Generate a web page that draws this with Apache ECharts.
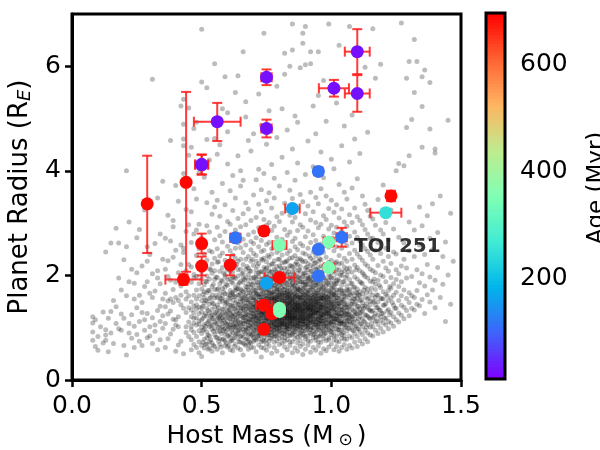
<!DOCTYPE html>
<html><head><meta charset="utf-8">
<script src="https://cdn.jsdelivr.net/npm/echarts@6/dist/echarts.min.js"></script>
<style>html,body{margin:0;padding:0;background:#fff}#c{width:600px;height:450px}</style>
</head><body><div id="c"></div>
<script>
// ---- axis ticks / ranges ----
const xTicks = [0, 0.5, 1.0, 1.5];
const yTicks = [0, 2, 4, 6];
const ageTicks = [200, 400, 600];
const ageRange = [12, 697];

// ---- young planets (colored, with error bars); reds first so younger draw on top ----
const planetMass    = [0.29, 0.44, 0.43, 0.50, 0.50, 0.61, 1.23, 0.74, 0.80, 0.74, 0.77, 0.74, 0.50, 0.80, 0.99, 0.99, 0.80, 0.80, 1.21, 0.85, 0.75, 0.63, 0.95, 1.04, 0.95, 0.95, 0.56, 0.50, 1.10, 1.10, 1.01, 0.75, 0.75];
const planetMassErr = [0, 0, 0.07, 0, 0, 0, 0.015, 0.015, 0.058, 0.03, 0.015, 0.01, 0.025, 0.027, 0.02, 0.02, 0.02, 0.02, 0.06, 0.028, 0.01, 0.02, 0.015, 0.02, 0.01, 0.01, 0.09, 0.025, 0.048, 0.048, 0.058, 0.02, 0.02];
const planetRadius  = [3.37, 3.78, 1.92, 2.61, 2.18, 2.20, 3.52, 2.85, 1.96, 1.43, 1.27, 0.97, 4.12, 2.58, 2.64, 2.15, 1.37, 1.31, 3.20, 3.28, 1.85, 2.72, 3.99, 2.73, 2.50, 1.99, 4.94, 4.12, 6.28, 5.48, 5.58, 5.79, 4.81];
const radiusErrLo   = [0.94, 1.71, 0.10, 0.19, 0.18, 0.20, 0.10, 0.08, 0.08, 0.09, 0.08, 0.06, 0.19, 0.08, 0.09, 0.08, 0.06, 0.06, 0.06, 0.06, 0.04, 0.08, 0.07, 0.18, 0.05, 0.05, 0.37, 0.19, 0.43, 0.35, 0.16, 0.15, 0.17];
const radiusErrHi   = [0.92, 1.73, 0.10, 0.19, 0.18, 0.19, 0.10, 0.08, 0.08, 0.09, 0.08, 0.06, 0.19, 0.08, 0.09, 0.08, 0.06, 0.06, 0.06, 0.06, 0.04, 0.08, 0.07, 0.18, 0.05, 0.05, 0.36, 0.19, 0.43, 0.35, 0.16, 0.15, 0.17];
const planetAge     = [690, 690, 690, 690, 690, 690, 690, 690, 690, 690, 690, 690, 25, 355, 355, 355, 355, 355, 250, 165, 165, 115, 115, 115, 115, 115, 25, 25, 25, 25, 25, 25, 25];
const labelText = 'TOI 251';
const labelPos = [1.087, 2.54];

// ---- background known planets: [host mass, [radii...]] read column by column ----
const bgStars = [
[0.08,[0.76,0.92,1.09,1.21]],[0.09,[0.64,1.15]],[0.10,[0.57,0.83]],[0.11,[1.02]],[0.12,[0.71,1.30]],
[0.13,[0.76,0.86,0.96,2.45]],[0.14,[1.18,0.54]],[0.15,[1.31,0.90,2.62]],[0.16,[0.70,1.52]],[0.17,[1.08,1.40,2.90]],
[0.18,[1.95,0.98,2.62]],[0.19,[0.95,1.72,1.26]],[0.20,[1.18,2.30,0.66]],[0.21,[0.48,2.55,1.61,4.00]],[0.22,[0.90,1.08,3.02,1.88]],
[0.23,[0.80,1.25,2.12]],[0.24,[0.62,1.55,1.85,1.03]],[0.25,[1.38,2.05,2.72,0.87]],[0.26,[1.12,1.62,2.88,0.74]],[0.27,[0.66,1.48,2.18,1.29]],
[0.28,[0.95,1.79,3.25,1.15]],[0.29,[1.27,1.88,2.27,2.55,0.81]],[0.30,[0.84,1.02,2.40,1.66]],[0.31,[0.70,1.19,1.58,5.75,2.03]],[0.32,[1.05,1.70,2.61,0.93]],
[0.33,[0.58,1.33,1.95,2.09,3.48]],[0.34,[0.77,1.41,2.79,1.12,1.84]],[0.35,[1.55,2.31,3.80,0.99,1.23]],[0.36,[0.62,1.08,1.40,1.66,2.12,2.71]],[0.37,[0.79,1.26,1.98,2.28,3.15,1.51]],
[0.38,[0.88,1.32,1.55,1.91,2.66,4.58]],[0.39,[0.97,1.48,1.73,2.35,2.93,3.05,1.16]],[0.40,[0.55,1.05,1.15,1.58,2.48,3.72,1.87]],[0.41,[0.67,1.21,1.52,2.05,3.42,1.02]],[0.42,[0.74,1.44,1.62,1.80,2.58,5.24,2.21]],
[0.43,[0.50,1.37,1.93,2.44,3.95,4.89,5.37,4.61,4.48,2.52]],[0.44,[0.91,1.02,1.29,1.69,2.09,2.84,3.26,1.55]],[0.45,[0.83,1.11,1.61,2.21,2.97,4.30,5.20,1.38]],
[0.46,[0.58,1.21,0.77,1.49,1.03,2.16,1.87,0.96,2.63,1.34,3.22,4.45]],
[0.47,[0.91,1.62,1.18,2.02,0.68,1.41,2.79,1.09,3.66,1.95,4.81,1.28]],
[0.48,[1.36,0.83,1.72,2.38,1.05,0.62,1.55,2.87,1.19,1.98,3.46,4.93,1.44]],
[0.49,[0.52,1.13,1.84,1.27,2.22,0.94,1.61,2.98,1.39,0.73,2.51,3.97,1.07]],
[0.50,[1.52,0.66,1.30,2.07,0.89,1.74,1.15,2.72,1.01,1.93,6.71,5.70,0.45,1.38]],
[0.51,[0.78,1.47,1.06,2.41,1.69,0.97,1.23,3.88,1.58,2.19,0.61,1.82,2.54]],
[0.52,[1.22,0.69,1.88,1.37,2.95,0.92,1.51,2.29,1.08,1.67,3.39,5.59,4.60,0.81,1.99]],
[0.53,[0.84,1.56,1.14,2.13,0.61,1.93,1.29,2.83,1.02,1.71,4.21,1.45,0.73,2.47]],
[0.54,[1.18,0.71,1.63,2.04,1.35,0.97,2.45,1.79,1.06,3.17,0.55,1.48,3.59,1.25,2.22]],
[0.55,[0.64,1.40,1.11,1.92,0.87,2.33,1.57,1.26,2.68,0.99,3.31,4.62,6.05,1.73,2.09]],
[0.56,[1.33,0.81,1.73,1.07,2.25,0.59,1.58,1.96,1.24,2.92,0.93,1.43,3.44,2.51,4.32,1.16]],
[0.57,[0.93,1.57,1.15,2.08,0.68,1.84,1.31,2.76,1.01,1.66,3.13,0.79,2.37,1.49,4.50,1.22]],
[0.58,[1.27,0.77,1.61,1.02,2.15,0.52,1.89,1.36,2.43,1.19,0.94,1.75,3.76,2.64,1.08,5.19,1.51]],
[0.59,[0.88,1.45,1.09,1.97,0.66,1.78,1.28,2.29,1.53,0.99,2.84,1.18,3.35,1.65,5.80,2.02,0.75]],
[0.60,[1.12,0.63,1.48,1.81,0.97,2.11,1.39,1.22,2.56,0.84,1.64,3.03,1.05,4.75,4.13,5.11,1.92,1.31]],
[0.61,[0.74,1.34,1.05,1.71,2.24,0.99,1.56,1.17,2.47,1.43,0.86,1.93,2.98,1.26,3.62,1.62,0.58,2.08]],
[0.62,[1.29,0.91,1.68,1.06,2.06,0.56,1.41,1.85,1.15,2.39,0.78,1.52,2.71,1.21,3.24,1.97,1.01,3.91,1.63]],
[0.63,[0.86,1.47,1.14,1.77,0.69,2.18,1.25,1.59,1.01,2.33,1.94,0.95,2.87,1.36,3.48,1.09,5.50,1.71,2.52]],
[0.64,[1.21,0.79,1.62,1.03,1.99,0.61,1.38,1.82,1.13,2.27,0.95,1.44,2.62,1.27,3.09,1.74,5.82,4.29,0.88,2.11]],
[0.65,[0.94,1.32,1.11,1.89,0.72,1.55,1.23,2.12,1.49,0.58,1.74,2.53,1.04,2.93,1.37,3.71,4.00,1.66,0.83,2.31]],
[0.66,[1.08,0.82,1.51,1.19,1.87,0.48,1.36,2.04,1.27,0.97,1.69,2.44,1.13,2.69,1.58,3.18,0.71,1.95,3.82,6.28,1.42,2.21]],
[0.67,[0.89,1.26,1.63,1.01,1.96,0.66,1.42,1.13,2.31,1.54,0.78,1.79,2.58,1.21,2.97,1.35,3.39,0.95,5.32,5.03,1.71,2.12]],
[0.68,[1.16,0.76,1.47,1.31,1.91,0.98,1.72,1.05,2.14,0.59,1.61,1.24,2.36,1.39,0.87,2.78,2.02,1.53,3.27,1.11,4.58,1.83,0.68]],
[0.69,[0.93,1.39,1.22,1.83,1.09,1.58,0.71,2.08,1.28,1.67,0.84,2.49,1.47,1.95,1.02,2.65,1.17,3.05,1.34,4.38,1.76,2.27,0.62]],
[0.70,[1.34,0.81,1.18,1.53,1.04,1.88,0.62,1.45,2.19,1.11,1.66,0.95,2.42,1.27,1.74,2.61,0.74,1.39,2.83,1.96,1.21,3.54,4.71,1.58,0.88]],
[0.71,[0.87,1.23,1.49,1.02,1.71,1.37,0.54,1.94,1.14,1.62,2.11,0.76,1.29,1.81,2.38,1.07,1.55,0.96,2.27,1.42,2.72,1.19,3.11,3.83,1.66,2.03]],
[0.72,[1.07,1.41,0.91,1.59,1.29,1.76,0.67,1.16,1.98,1.47,0.79,2.23,1.33,1.04,1.87,2.55,1.21,0.85,1.64,2.04,1.38,2.91,1.12,3.36,4.03,5.47,1.52]],
[0.73,[0.96,1.25,1.64,1.12,1.43,0.73,1.85,1.03,1.53,2.07,1.31,0.85,1.72,2.31,1.18,1.92,0.62,1.37,2.46,1.08,1.59,2.67,1.26,3.22,0.44,3.64,4.87,1.81]],
[0.74,[1.19,0.82,1.48,1.01,1.73,1.32,0.61,1.57,1.09,1.89,1.39,0.92,2.15,1.24,1.65,1.05,2.33,1.44,0.74,1.79,2.48,1.14,1.96,1.29,2.79,3.07,1.53,3.95,6.63,2.06]],
[0.75,[0.94,1.36,1.06,1.68,1.22,1.51,0.77,1.82,1.15,1.44,2.03,0.57,1.27,1.97,1.61,1.02,2.26,1.33,0.86,1.74,2.59,1.19,1.47,2.96,1.09,2.14,3.43,4.51,1.56,0.69]],
[0.76,[1.13,0.86,1.42,1.28,1.71,0.99,1.55,1.05,1.87,1.34,0.65,1.61,2.09,1.19,1.46,0.74,1.93,1.24,2.35,1.39,1.02,1.79,2.63,1.16,1.51,0.91,2.19,3.01,1.66,3.58,5.15,1.31]],
[0.77,[0.91,1.21,1.49,1.08,1.63,1.38,0.79,1.78,1.17,1.99,1.31,0.97,1.56,2.22,1.04,1.44,1.84,0.51,1.27,2.41,1.69,1.12,0.86,2.51,1.36,1.93,2.86,1.24,3.29,4.12,1.58,2.07]],
[0.78,[1.26,1.02,1.41,0.83,1.58,1.14,1.69,1.35,0.62,1.81,1.09,1.52,2.01,1.22,0.88,1.92,1.46,2.28,1.05,1.64,0.72,2.12,1.31,1.75,2.57,1.18,0.95,2.94,1.39,3.48,3.86,1.99,1.55]],
[0.79,[0.93,1.18,1.33,1.05,1.46,0.75,1.61,1.27,1.76,1.11,1.94,1.39,0.84,1.55,2.17,1.01,1.68,1.23,2.44,0.55,1.85,1.14,1.49,2.06,1.36,2.73,0.97,1.72,3.12,1.29,4.64,5.62,1.58]],
[0.80,[1.16,0.87,1.29,1.43,1.00,1.54,1.21,1.66,0.68,1.37,1.83,1.07,1.48,2.05,1.25,0.79,1.95,1.59,2.31,1.12,1.73,0.94,2.48,1.34,2.62,1.03,1.88,3.03,1.44,2.18,3.71,1.62,1.19]],
[0.81,[0.89,1.15,1.31,1.03,1.52,1.24,0.71,1.67,1.09,1.45,1.86,1.39,0.96,1.59,2.10,1.19,0.47,1.99,1.27,1.77,2.39,1.06,1.52,0.81,2.69,1.35,1.91,3.19,1.13,2.24,4.26,5.19,1.64,1.42]],
[0.82,[1.11,0.95,1.35,1.23,1.62,1.05,1.47,0.81,1.79,1.28,1.56,1.16,1.97,0.63,1.41,2.14,1.01,1.73,1.33,2.25,0.74,1.88,1.19,1.51,2.53,1.08,1.66,2.88,1.38,3.38,6.25,5.85,2.04,1.25,0.88]],
[0.83,[1.04,1.29,0.92,1.44,1.17,1.58,1.36,0.77,1.72,1.12,1.91,1.51,1.24,0.58,2.03,1.65,1.07,1.33,2.13,0.85,1.82,1.47,2.42,1.19,0.99,1.69,2.77,1.39,3.24,1.02,3.97,4.78,1.56,2.28,1.27]],
[0.84,[1.20,0.98,1.33,1.08,1.49,1.26,1.64,0.84,1.42,1.81,1.14,1.57,2.01,0.73,1.36,1.89,1.03,2.19,1.71,1.29,0.66,2.47,1.18,1.53,2.83,1.45,0.91,3.15,1.96,3.63,6.00,1.23,2.33,1.61,1.11]],
[0.85,[1.01,1.27,1.13,1.40,0.88,1.53,1.35,1.69,1.19,0.73,1.86,1.46,1.08,1.61,2.07,1.31,0.95,1.77,2.34,1.22,0.52,1.95,1.49,2.65,1.04,1.38,3.02,1.83,3.47,4.42,6.31,6.81,2.16,1.57,1.16]],
[0.86,[1.06,1.31,1.18,1.45,0.93,1.57,1.24,1.74,1.38,0.79,1.92,1.10,1.51,2.12,1.28,0.86,1.65,1.99,1.03,2.38,1.43,0.61,1.81,2.55,1.15,2.71,1.36,3.11,1.60,3.82,5.05,1.21,2.21,1.48]],
[0.87,[1.09,0.97,1.34,1.22,1.48,1.15,1.62,0.82,1.41,1.78,1.27,1.96,1.04,1.55,0.71,1.69,2.21,1.19,1.86,1.37,2.49,0.55,1.12,1.58,2.04,2.86,1.31,3.29,1.73,4.15,4.93,1.44,2.32,1.01]],
[0.88,[1.03,1.29,1.16,1.43,0.91,1.59,1.36,1.21,1.71,0.76,1.52,1.88,1.12,1.39,2.09,0.84,1.64,1.26,2.32,1.94,1.07,0.64,1.47,2.61,1.77,1.33,2.97,1.19,3.55,5.97,2.17,1.56,1.00]],
[0.89,[1.00,1.25,1.11,1.38,0.86,1.52,1.32,1.66,1.07,1.47,0.69,1.83,1.21,2.02,1.58,0.94,1.74,1.29,2.26,1.43,1.14,0.49,1.98,2.57,1.36,2.92,1.62,3.41,6.63,6.44,2.43,1.18,1.87]],
[0.90,[1.07,1.32,1.19,1.46,0.94,1.61,1.26,1.77,1.13,0.78,1.55,1.94,1.39,2.14,1.03,1.69,0.83,1.87,1.24,2.41,1.51,0.59,2.05,1.35,2.74,1.16,3.18,1.82,3.93,6.76,6.03,2.27,1.44]],
[0.91,[1.12,0.99,1.37,1.24,1.51,1.05,1.65,1.29,0.84,1.82,1.43,1.17,2.00,1.58,0.75,1.91,1.33,2.23,1.09,1.71,0.67,2.52,1.46,2.11,1.21,2.85,1.62,3.33,4.57,1.38,1.95,1.02]],
[0.92,[1.02,1.27,1.14,1.41,0.89,1.56,1.35,1.72,1.09,1.49,0.74,1.89,1.21,1.63,2.08,0.96,1.97,1.31,2.33,1.45,0.53,2.19,1.18,2.63,1.79,3.06,1.38,3.59,6.28,6.05,1.53,1.24]],
[0.93,[1.08,1.33,1.21,1.47,0.95,1.63,1.16,1.79,1.39,0.81,1.54,1.95,1.25,2.16,1.71,0.87,2.02,1.44,2.45,1.12,0.62,1.87,2.78,1.29,3.22,1.58,4.08,5.24,1.36,2.29,1.01]],
[0.94,[1.04,1.30,1.17,1.44,0.92,1.59,1.11,1.75,1.33,0.76,1.51,1.92,1.22,2.12,1.66,0.82,1.86,1.39,2.37,1.07,0.57,2.24,1.48,2.67,1.28,3.01,1.81,3.49,4.71,1.55]],
[0.95,[1.10,0.97,1.36,1.23,1.50,1.06,1.66,1.28,0.83,1.84,1.42,1.15,2.03,1.57,0.73,1.95,1.33,2.27,1.01,2.58,1.72,0.65,2.15,1.47,2.91,1.19,3.37,6.28,5.44,1.62]],
[0.96,[1.01,1.26,1.13,1.40,0.88,1.55,1.34,1.70,1.18,0.72,1.62,1.87,1.07,2.06,1.45,0.93,1.78,1.29,2.30,1.51,0.51,2.18,1.22,2.60,1.38,2.98,3.66,4.36,1.58]],
[0.97,[1.07,1.32,1.20,1.46,0.94,1.61,1.27,1.77,1.12,0.79,1.53,1.96,1.38,2.17,1.03,1.85,0.85,2.09,1.44,2.44,1.24,0.60,2.75,1.69,3.14,3.87,5.73,1.57]],
[0.98,[1.03,1.29,1.15,1.43,0.90,1.58,1.36,1.73,1.09,0.75,1.64,1.90,1.21,2.10,1.48,0.97,1.81,2.35,1.26,2.21,0.56,2.66,1.53,3.07,3.52,4.95,1.39]],
[0.99,[1.09,1.35,1.22,1.49,0.96,1.65,1.30,1.82,1.14,0.81,1.56,2.01,1.41,2.25,1.05,1.71,0.77,2.13,1.26,2.54,0.63,2.89,1.60,3.28,6.81,1.91]],
[1.00,[1.00,1.25,1.12,1.38,0.86,1.52,1.33,1.68,1.07,0.69,1.60,1.85,1.17,2.04,1.44,0.92,1.76,2.29,1.21,2.17,2.59,1.48,2.96,3.44,4.22,1.95]],
[1.01,[1.05,1.31,1.17,1.45,0.91,1.60,1.38,1.77,1.12,0.77,1.53,1.95,1.24,2.19,1.69,0.84,2.08,1.41,2.47,0.58,2.81,1.63,3.21,4.04,1.86]],
[1.02,[1.10,0.98,1.36,1.23,1.51,1.16,1.67,1.29,0.83,1.84,1.44,2.03,1.58,0.74,1.90,2.26,1.19,2.12,0.64,2.55,1.72,2.92,3.35,5.30]],
[1.03,[1.02,1.27,1.14,1.41,0.89,1.56,1.35,1.72,1.08,0.73,1.63,1.90,1.23,2.11,1.47,0.96,2.38,2.22,0.55,2.70,3.10,3.74,6.40]],
[1.04,[1.08,1.34,1.21,1.48,0.95,1.64,1.13,1.81,1.40,0.80,1.55,2.00,1.27,2.24,0.87,2.06,2.52,0.62,2.86,3.27,4.48,1.71]],
[1.05,[1.13,1.00,1.39,1.26,1.54,1.06,1.70,1.31,0.85,1.88,1.61,2.08,0.78,1.45,2.33,2.16,0.68,2.64,3.02,3.59,4.86]],
[1.06,[1.06,1.33,1.19,1.47,0.93,1.63,1.39,1.80,1.11,0.78,2.00,1.72,2.27,0.59,2.13,2.57,2.94,3.46,1.25]],
[1.07,[1.12,1.40,1.25,0.99,1.56,1.30,1.73,0.84,1.92,1.64,2.14,0.66,2.42,1.18,2.75,3.16,4.17,6.76]],
[1.08,[1.09,1.36,1.22,1.51,0.96,1.67,1.45,1.85,0.81,2.06,1.17,2.31,0.61,2.62,3.01,3.67,5.07]],
[1.09,[1.16,1.45,1.30,1.03,1.61,1.24,1.78,0.89,1.97,1.55,2.20,0.72,2.48,2.83,3.29,4.61]],
[1.10,[1.12,1.41,1.26,0.98,1.57,1.35,1.74,0.83,1.93,1.66,2.15,0.64,2.41,2.73,3.12,3.85]],
[1.11,[1.21,1.52,1.36,1.07,1.69,1.28,1.88,0.92,2.09,1.61,2.35,0.75,2.66,3.05,4.33]],
[1.12,[1.17,1.48,1.32,1.02,1.65,1.84,1.41,0.87,2.05,2.29,0.69,2.58,2.97,3.52]],
[1.13,[1.25,1.58,1.41,1.10,1.77,0.95,1.98,2.22,0.79,2.51,2.88,3.36,5.98]],
[1.14,[1.22,1.55,1.38,1.06,1.74,0.90,1.95,2.18,0.73,2.46,2.79,3.24,4.74]],
[1.15,[1.33,1.17,1.50,1.68,1.01,1.89,2.12,0.86,2.39,1.44,2.71,3.13]],
[1.16,[0.84,1.19,1.02,1.51,1.33,1.88,1.62,2.31,2.09,3.08,2.71,6.72]],
[1.17,[0.95,1.27,1.12,1.73,1.44,2.05,2.48,1.58,2.96,5.77,1.83]],
[1.18,[1.06,1.38,0.89,1.62,1.24,2.19,1.91,2.63,3.45,1.49]],
[1.19,[1.14,0.99,1.56,1.33,2.01,1.77,2.42,2.87,6.04,1.21]],
[1.20,[1.27,1.09,1.69,1.43,0.92,2.27,1.98,2.79,3.73,1.55]],
[1.21,[1.18,1.46,1.05,1.88,1.64,2.52,3.01,2.14]],[1.22,[1.35,1.12,1.71,2.08,1.52,0.98,2.36,2.68]],
[1.23,[1.29,1.57,1.09,1.96,2.23,1.76,3.25]],[1.24,[1.43,1.21,1.84,1.62,2.45,2.89,1.03]],
[1.25,[1.15,1.68,1.37,2.11,1.92,2.41,4.00]],[1.26,[1.52,1.28,1.79,2.03,2.73,4.14,1.11]],
[1.27,[1.24,1.61,1.43,2.18,1.88,6.83]],[1.28,[1.39,1.72,1.17,2.31,2.62,4.10]],
[1.29,[1.56,1.33,1.95,2.14,4.83,5.77]],[1.30,[1.23,1.67,1.48,2.47,3.02,4.29,6.09]],
[1.31,[1.37,1.61,1.98,4.98]],[1.32,[1.34,1.58,2.36,2.87,6.51,5.50]],[1.33,[1.45,1.71,2.11,6.09]],
[1.34,[1.42,1.86,2.58,3.31]],[1.35,[1.54,2.03,2.95,5.80,5.23,4.45]],[1.36,[1.27,1.80,2.40,5.93]],
[1.37,[1.63,2.21,3.14]],[1.38,[1.49,1.97,2.71,5.69,4.80]],[1.39,[1.72,2.49,3.37]],[1.40,[1.38,1.91,4.42,4.34]],
[1.41,[2.15,2.82]],[1.42,[1.58,3.52]],[1.43,[1.83,2.36]],[1.44,[1.12,2.64]],[1.45,[2.01,4.97]],[1.46,[1.45,3.19]],[1.47,[2.27]]
];

// ---- extra dense-core host masses (between the columns above) ----
const bgCore = [
[0.505,[0.72,1.18,1.64,0.95,1.41]],[0.515,[1.03,1.52,0.68,1.27,1.89]],[0.525,[0.86,1.33,1.71,1.12,0.59]],
[0.535,[1.22,0.77,1.58,1.04,2.11]],[0.545,[0.93,1.46,1.17,1.83,0.66]],[0.555,[1.29,0.82,1.62,1.08,1.97]],
[0.565,[1.01,1.38,0.74,1.75,1.19,2.26]],[0.575,[0.89,1.24,1.56,1.12,0.63,1.91]],[0.585,[1.36,0.97,1.69,1.15,0.79,2.05]],
[0.595,[1.07,1.48,0.71,1.26,1.83,0.92]],[0.605,[0.83,1.19,1.57,1.34,0.66,2.14,1.02]],[0.615,[1.25,0.94,1.66,1.11,1.43,0.75,1.88]],
[0.625,[1.03,1.37,0.81,1.59,1.22,1.96,0.64]],[0.635,[1.17,0.88,1.51,1.31,1.74,1.05,2.21]],[0.645,[0.96,1.28,1.63,1.09,1.45,0.73,1.86]],
[0.655,[1.21,1.02,1.39,0.85,1.71,1.56,2.03]],[0.665,[1.08,1.33,0.92,1.61,1.19,1.92,0.69,1.47]],[0.675,[0.98,1.25,1.54,1.12,0.79,1.78,1.41,2.17]],
[0.685,[1.15,0.89,1.36,1.67,1.04,1.49,2.09,0.72]],[0.695,[1.27,1.01,1.58,0.86,1.43,1.82,1.14,2.31]],
[0.705,[1.09,1.32,0.94,1.71,1.21,1.52,0.78,1.96,1.41]],[0.715,[1.24,0.99,1.47,1.13,1.86,1.35,0.83,1.64,2.18]],
[0.725,[1.02,1.37,1.18,1.59,0.89,1.77,1.28,2.07,1.46]],[0.735,[1.31,1.07,1.52,0.95,1.69,1.22,1.93,1.41,0.76,2.29]],
[0.745,[1.14,1.42,0.91,1.61,1.27,1.83,1.03,1.51,2.12,1.36]],[0.755,[1.26,1.05,1.48,1.17,1.72,0.87,1.35,1.98,1.57,2.38]],
[0.765,[1.09,1.33,0.97,1.54,1.21,1.79,1.43,2.06,0.81,1.65]],[0.775,[1.28,1.12,1.46,1.02,1.67,1.37,1.91,0.93,1.55,2.22,1.19]],
[0.785,[1.16,1.39,0.99,1.58,1.25,1.81,1.07,1.49,2.09,1.33,0.84]],[0.795,[1.21,1.04,1.44,1.31,1.63,0.92,1.74,1.13,1.97,1.52,2.31]],
[0.805,[1.11,1.36,1.24,1.57,0.96,1.46,1.82,1.05,1.69,2.14,1.29]],[0.815,[1.27,1.08,1.51,1.18,1.73,1.39,0.89,1.61,2.02,1.33,1.94]],
[0.825,[1.14,1.31,1.02,1.47,1.23,1.66,1.85,0.94,1.38,2.26,1.57]],[0.835,[1.22,1.41,1.09,1.59,1.31,0.98,1.76,1.48,2.07,1.17,1.63]],
[0.845,[1.07,1.29,1.46,1.15,1.68,1.37,0.86,1.92,1.53,2.18,1.24]],[0.855,[1.33,1.12,1.55,1.24,1.79,1.01,1.42,2.03,1.64,0.92,1.19]],
[0.865,[1.18,1.39,1.05,1.62,1.28,1.87,1.47,0.97,2.25,1.34,1.71]],[0.875,[1.25,1.08,1.49,1.36,1.73,1.14,1.58,2.11,0.89,1.96,1.42]],
[0.885,[1.13,1.34,1.21,1.57,1.02,1.69,1.44,1.88,0.94,2.29,1.27]],[0.895,[1.29,1.11,1.52,1.38,1.76,1.06,1.63,2.04,1.19,0.87,1.47]],
[0.905,[1.17,1.42,1.03,1.59,1.26,1.84,1.35,2.16,0.96,1.68,1.51]],[0.915,[1.23,1.09,1.47,1.33,1.71,1.15,1.93,1.56,0.91,2.37,1.39]],
[0.925,[1.11,1.36,1.24,1.62,0.99,1.78,1.45,2.08,1.29,1.87,1.53]],[0.935,[1.27,1.06,1.51,1.37,1.69,1.16,1.98,1.43,0.88,2.23,1.61]],
[0.945,[1.15,1.41,1.02,1.57,1.28,1.82,1.34,2.11,0.95,1.66,1.49]],[0.955,[1.21,1.08,1.46,1.32,1.74,1.13,1.91,1.55,2.32,0.84,1.39]],
[0.965,[1.13,1.37,1.25,1.63,0.97,1.79,1.44,2.02,1.19,1.56]],[0.975,[1.29,1.05,1.52,1.36,1.71,1.14,1.94,1.61,0.89,2.18]],
[0.985,[1.17,1.42,1.01,1.58,1.27,1.85,1.33,2.09,1.49]],[0.995,[1.23,1.09,1.47,1.31,1.69,0.93,1.97,1.56,1.38]],
[1.005,[1.12,1.36,1.21,1.64,0.98,1.77,1.45,2.13]],[1.015,[1.28,1.04,1.51,1.35,1.83,1.16,1.62,2.24]],
[1.025,[1.15,1.41,0.96,1.57,1.26,1.92,1.47]],[1.035,[1.22,1.07,1.48,1.33,1.73,1.12,2.01]],
[1.045,[1.09,1.35,1.23,1.66,0.91,1.52,1.88]],[1.055,[1.27,1.02,1.44,1.59,1.18,1.96]],
[1.065,[1.14,1.38,0.99,1.71,1.26,2.07]],[1.075,[1.21,1.46,1.06,1.63,1.84]],[1.085,[1.11,1.33,1.55,0.94,1.77]],
[1.095,[1.26,1.03,1.49,1.68,2.11]],[1.105,[1.17,1.41,0.97,1.62]],[1.115,[1.29,1.08,1.53,1.86]],
[1.125,[1.13,1.37,1.72,2.02]],[1.135,[1.24,1.46,1.01,1.67]],[1.145,[1.19,1.58,1.35]],[1.155,[1.31,1.09,1.76]],
[1.165,[1.22,1.49,1.93]],[1.175,[1.14,1.63,1.38]],[1.185,[1.34,1.81]],[1.195,[1.27,1.56]],[1.205,[1.43,1.18]],
[1.215,[1.61,1.32]],[1.225,[1.25,1.79]],[1.235,[1.48]],[1.245,[1.37]]
];

// ---- build series data ----
const bgData = [];
bgStars.concat(bgCore).forEach(([m, rs]) => rs.forEach(r => bgData.push([m, r])));
const planetData = planetMass.map((m, i) => [m, planetRadius[i], planetAge[i]]);
const errData = planetMass.map((m, i) => [m, planetRadius[i], planetMassErr[i], radiusErrLo[i], radiusErrHi[i]]);

const rainbow = ['#8000ff','#4062fa','#00b4ec','#40ecd4','#80ffb4','#bfec8e','#ffb462','#ff6232','#ff0000'];
const FONT = 'DejaVu Sans';
const chart = echarts.init(document.getElementById('c'), null, {renderer: 'canvas'});

const ERR_COLOR = 'rgba(255,25,25,0.85)';
function errRender(params, api) {
  const m = api.value(0), r = api.value(1), me = api.value(2), lo = api.value(3), hi = api.value(4);
  const cap = 5, st = {stroke: ERR_COLOR, lineWidth: 2};
  const ch = [];
  const t = api.coord([m, r + hi]), b = api.coord([m, r - lo]);
  ch.push({type: 'line', shape: {x1: t[0], y1: t[1], x2: b[0], y2: b[1]}, style: st});
  ch.push({type: 'line', shape: {x1: t[0] - cap, y1: t[1], x2: t[0] + cap, y2: t[1]}, style: st});
  ch.push({type: 'line', shape: {x1: b[0] - cap, y1: b[1], x2: b[0] + cap, y2: b[1]}, style: st});
  if (me > 0) {
    const L = api.coord([m - me, r]), R = api.coord([m + me, r]);
    ch.push({type: 'line', shape: {x1: L[0], y1: L[1], x2: R[0], y2: R[1]}, style: st});
    ch.push({type: 'line', shape: {x1: L[0], y1: L[1] - cap, x2: L[0], y2: L[1] + cap}, style: st});
    ch.push({type: 'line', shape: {x1: R[0], y1: R[1] - cap, x2: R[0], y2: R[1] + cap}, style: st});
  }
  return {type: 'group', children: ch};
}

// colorbar: solid colour bands sampled from the colormap, then a black frame
const CB_BANDS = 120;
function colorbarRender(params, api) {
  const span = ageRange[1] - ageRange[0];
  const ch = [];
  for (let k = 0; k < CB_BANDS; k++) {
    const a0 = ageRange[0] + span * k / CB_BANDS, a1 = ageRange[0] + span * (k + 1) / CB_BANDS;
    const pTop = api.coord([0, a1]), pBot = api.coord([1, a0]);
    const col = echarts.color.lerp((k + 0.5) / CB_BANDS, rainbow);
    ch.push({type: 'rect', shape: {x: pTop[0], y: pTop[1] - 0.5, width: pBot[0] - pTop[0], height: pBot[1] - pTop[1] + 1},
      style: {fill: col, stroke: null, opacity: 1}});
  }
  const p0 = api.coord([0, ageRange[1]]), p1 = api.coord([1, ageRange[0]]);
  ch.push({type: 'rect', shape: {x: p0[0], y: p0[1], width: p1[0] - p0[0], height: p1[1] - p0[1]},
    style: {fill: null, stroke: '#000', lineWidth: 3, opacity: 1}});
  return {type: 'group', children: ch};
}

const axisCommon = {
  axisLine: {show: true, lineStyle: {color: '#000', width: 3}},
  axisTick: {show: true, inside: false, length: 7, lineStyle: {color: '#000', width: 2.5}},
  splitLine: {show: false},
};

chart.setOption({
  animation: false,
  backgroundColor: '#fff',
  textStyle: {fontFamily: FONT},
  grid: [
    {left: 72, top: 14, width: 389, height: 366, show: true, borderColor: '#000', borderWidth: 3,
     backgroundColor: 'transparent', containLabel: false, outerBoundsMode: 'none'},
    {left: 486, top: 13, width: 19, height: 366, containLabel: false, outerBoundsMode: 'none'}
  ],
  xAxis: [
    Object.assign({}, axisCommon, {
      type: 'value', gridIndex: 0, min: 0, max: 1.5, interval: 0.5,
      axisLabel: {fontSize: 25, color: '#000', margin: 14, fontFamily: FONT, formatter: v => v.toFixed(1)},
      name: 'Host Mass (M{sub|⊙})', nameLocation: 'middle', nameGap: 42,
      nameTextStyle: {fontSize: 25, color: '#000', fontFamily: FONT,
        rich: {sub: {fontSize: 17, color: '#000', fontFamily: FONT, verticalAlign: 'bottom', padding: [9, 4, 0, 5]}}}
    }),
    {type: 'value', gridIndex: 1, min: 0, max: 1, show: false}
  ],
  yAxis: [
    Object.assign({}, axisCommon, {
      type: 'value', gridIndex: 0, min: 0, max: 7, interval: 2,
      axisTick: {show: true, inside: false, length: 7, lineStyle: {color: '#000', width: 2.5}, customValues: yTicks},
      axisLabel: {fontSize: 25, color: '#000', margin: 11, fontFamily: FONT, customValues: yTicks},
      name: 'Planet Radius (R{sub|E})', nameLocation: 'middle', nameGap: 36,
      nameTextStyle: {fontSize: 26, color: '#000', fontFamily: FONT,
        rich: {sub: {fontSize: 18, color: '#000', fontFamily: FONT, fontStyle: 'italic', verticalAlign: 'bottom', padding: [9, 0, 0, 0]}}}
    }),
    {
      type: 'value', gridIndex: 1, min: ageRange[0], max: ageRange[1], position: 'right',
      axisLine: {show: false},
      axisTick: {show: true, inside: false, length: 9, lineStyle: {color: '#000', width: 2.5}, customValues: ageTicks},
      axisLabel: {fontSize: 25, color: '#000', margin: 15, fontFamily: FONT, customValues: ageTicks},
      splitLine: {show: false},
      name: 'Age (Myr)', nameLocation: 'middle', nameGap: 81, nameRotate: 90,
      nameTextStyle: {fontSize: 23, color: '#000', fontFamily: FONT, padding: [0, 0, 0, 16]}
    }
  ],
  visualMap: {
    show: false, type: 'continuous', seriesIndex: 2, dimension: 2,
    min: ageRange[0], max: ageRange[1], inRange: {color: rainbow}
  },
  series: [
    {
      type: 'scatter', xAxisIndex: 0, yAxisIndex: 0, data: bgData, symbolSize: 5, silent: true,
      progressive: 0, large: false,
      itemStyle: {color: 'rgba(0,0,0,0.33)'}, z: 1
    },
    {
      type: 'custom', xAxisIndex: 0, yAxisIndex: 0, data: errData, renderItem: errRender, silent: true,
      encode: {x: 0, y: 1}, z: 2
    },
    {
      type: 'scatter', xAxisIndex: 0, yAxisIndex: 0, data: planetData, symbolSize: 13, silent: true,
      itemStyle: {opacity: 1}, z: 3
    },
    {
      type: 'scatter', xAxisIndex: 0, yAxisIndex: 0, data: [labelPos], symbolSize: 0, silent: true, z: 4,
      label: {show: true, formatter: labelText, position: 'right', distance: 0, fontSize: 20, fontWeight: 'bold', color: '#000', fontFamily: FONT}
    },
    {
      type: 'custom', xAxisIndex: 1, yAxisIndex: 1, data: [[0.5, ageRange[0]]], silent: true, clip: false,
      zlevel: 1, z: 5, renderItem: colorbarRender
    }
  ]
});
</script>
</body></html>
